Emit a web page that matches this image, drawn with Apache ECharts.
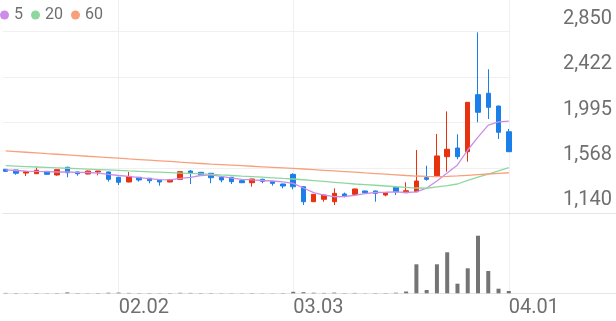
<!DOCTYPE html>
<html><head><meta charset="utf-8">
<script src="https://cdn.jsdelivr.net/npm/echarts@6/dist/echarts.min.js"></script>
<style>html,body{margin:0;padding:0;background:#fff}#c{width:616px;height:321px}</style>
</head><body><div id="c"></div>
<script>
const dates = ["01.16","01.19","01.20","01.21","01.22","01.23","01.26","01.27","01.28","01.29","01.30",
  "02.02","02.03","02.04","02.05","02.06","02.09","02.10","02.11","02.12","02.13","02.19","02.20","02.23","02.24","02.25","02.26","02.27",
  "03.03","03.04","03.05","03.06","03.09","03.10","03.11","03.12","03.13","03.16","03.17","03.18","03.19","03.20","03.23","03.24","03.25","03.26","03.27","03.30","03.31",
  "04.01"];
const opens  = [1554,1548,1519,1513,1535,1501,1573,1529,1510,1529,1529,1479,1435,1479,1470,1454,1435,1460,1538,1526,1517,1479,1479,1447,1428,1460,1441,1416,1507,1390,1249,1272,1249,1322,1319,1350,1350,1312,1385,1334,1343,1475,1494,1673,1755,1720,2257,2270,2150,1908];
const closes = [1535,1517,1532,1545,1507,1551,1522,1513,1538,1538,1460,1432,1485,1454,1447,1435,1456,1532,1517,1501,1475,1454,1438,1428,1463,1441,1422,1397,1390,1249,1319,1312,1328,1303,1369,1334,1328,1334,1343,1353,1444,1460,1680,1743,1673,2185,2091,2138,1903,1720];
const lows   = [1530,1503,1491,1510,1504,1494,1479,1494,1507,1498,1438,1406,1432,1438,1423,1400,1432,1457,1416,1498,1423,1432,1416,1425,1391,1423,1400,1375,1366,1218,1246,1249,1218,1290,1315,1331,1249,1300,1312,1331,1340,1447,1491,1532,1649,1626,1997,2028,1840,1717];
const highs  = [1556,1550,1534,1573,1538,1554,1579,1531,1542,1540,1532,1482,1529,1482,1472,1456,1460,1535,1548,1529,1519,1482,1482,1450,1466,1466,1444,1419,1517,1393,1322,1315,1375,1335,1372,1353,1353,1340,1388,1432,1736,1588,1887,2100,1884,2188,2844,2496,2153,1934];
const volumes = [40000,30000,20000,30000,20000,30000,90000,30000,20000,30000,60000,70000,40000,30000,30000,20000,30000,50000,40000,30000,30000,20000,20000,20000,30000,20000,20000,30000,150000,110000,60000,40000,70000,30000,40000,20000,30000,30000,60000,180000,2900000,330000,2900000,4100000,960000,2500000,5760000,2230000,460000,230000];
const ma5  = [1548,1543,1538,1534,1532,1529,1529,1526,1524,1519,1507,1496,1487,1475,1466,1458,1454,1468,1479,1496,1501,1487,1472,1460,1454,1449,1444,1435,1422,1378,1334,1312,1296,1298,1308,1325,1336,1338,1341,1336,1341,1378,1444,1519,1595,1736,1858,1971,2000,2008];
const ma20 = [1588,1584,1580,1576,1572,1568,1564,1560,1556,1552,1548,1544,1539,1535,1531,1527,1523,1519,1515,1511,1507,1501,1496,1490,1485,1480,1474,1468,1463,1456,1448,1440,1432,1424,1416,1410,1404,1397,1390,1384,1378,1376,1388,1400,1416,1450,1480,1510,1540,1569];
const ma60 = [1727,1721,1715,1709,1702,1696,1690,1684,1677,1671,1665,1659,1652,1646,1640,1634,1628,1621,1615,1609,1603,1598,1593,1588,1583,1578,1573,1568,1563,1557,1551,1545,1539,1533,1527,1520,1514,1508,1502,1496,1491,1487,1485,1487,1492,1498,1504,1510,1516,1522];
const yTickLabels = ["1,140","1,568","1,995","2,422","2,850"];
const xTickLabels = ["02.02","03.03","04.01"];
const yMin = 1140, yMax = 2850;

const FONT = 'Roboto';
const TXT = '#6f6f6f';
const yInterval = (yMax - yMin) / (yTickLabels.length - 1);
const gL = 5.7, gR = 107.2, pTop = 31.7, pH = 181.6, vTop = 235.7, vBottom = 27.7;
const hidden = {show:false};
const chart = echarts.init(document.getElementById('c'), null, {renderer:'canvas'});
chart.setOption({
  animation:false,
  backgroundColor:'#fff',
  legend:{
    data:['5','20','60'], icon:'circle', itemWidth:9, itemHeight:9, itemGap:8, padding:0,
    left:0, top:7, textStyle:{fontFamily:FONT, fontSize:16, color:TXT}
  },
  grid:[
    {left:gL, right:gR, top:pTop, height:pH},
    {left:gL, right:gR, top:vTop, bottom:vBottom},
    {left:3, right:106, top:pTop, height:pH},
    {left:3, right:0, top:pTop, height:pH},
    {left:3, right:0, top:vTop, bottom:vBottom},
    {left:gL, right:gR, top:0, bottom:vBottom}
  ],
  xAxis:[
    {gridIndex:0, type:'category', data:dates, boundaryGap:false, show:false},
    {gridIndex:1, type:'category', data:dates, boundaryGap:false, show:false},
    {gridIndex:2, type:'value', min:0, max:1, show:false},
    {gridIndex:3, type:'value', min:0, max:1, position:'bottom', axisLine:{show:true, onZero:false, lineStyle:{color:'#e4e4e4', width:1}}, axisTick:hidden, axisLabel:hidden, splitLine:hidden},
    {gridIndex:4, type:'value', min:0, max:1, position:'bottom', axisLine:{show:true, onZero:false, lineStyle:{color:'#e4e4e4', width:1}}, axisTick:hidden, axisLabel:hidden, splitLine:hidden},
    {gridIndex:5, type:'category', data:dates, boundaryGap:false, position:'bottom',
      axisLine:hidden, axisTick:hidden,
      splitLine:{show:true, interval:(i,v)=>xTickLabels.includes(v), lineStyle:{color:'#efefef', width:1}},
      axisLabel:{show:true, interval:(i,v)=>xTickLabels.includes(v), align:'left', margin:5, fontFamily:FONT, fontSize:20, color:TXT}
    }
  ],
  yAxis:[
    {gridIndex:0, type:'value', position:'right', min:yMin, max:yMax, interval:yInterval,
      axisLine:hidden, axisTick:hidden, splitLine:hidden,
      axisLabel:{show:true, inside:false, margin:103.2, align:'right', verticalAlign:'bottom', padding:[0,0,3,0],
        fontFamily:FONT, fontSize:20, color:TXT,
        formatter:(v)=>yTickLabels[Math.round((v - yMin)/yInterval)]}},
    {gridIndex:1, type:'value', min:0, max:'dataMax', show:false},
    {gridIndex:2, type:'value', min:yMin, max:yMax, interval:yInterval, axisLine:hidden, axisTick:hidden, axisLabel:hidden,
      splitLine:{show:true, lineStyle:{color:'#f0f0f0', width:1}}},
    {gridIndex:3, type:'value', min:0, max:1, show:false},
    {gridIndex:4, type:'value', min:0, max:1, show:false},
    {gridIndex:5, type:'value', min:0, max:1, show:false}
  ],
  series:[
    {type:'candlestick', xAxisIndex:0, yAxisIndex:0, barWidth:5,
      data:dates.map((d,i)=>[opens[i], closes[i], lows[i], highs[i]]),
      itemStyle:{color:'#e8310e', color0:'#1b7fe9', borderColor:'#e8310e', borderColor0:'#1b7fe9', borderWidth:1}},
    {name:'5', type:'line', xAxisIndex:0, yAxisIndex:0, data:ma5, showSymbol:false, symbol:'none', color:'#cc8ce9', lineStyle:{width:1.3, color:'#cc8ce9'}},
    {name:'20', type:'line', xAxisIndex:0, yAxisIndex:0, data:ma20, showSymbol:false, symbol:'none', color:'#8ed8a0', lineStyle:{width:1.3, color:'#8ed8a0'}},
    {name:'60', type:'line', xAxisIndex:0, yAxisIndex:0, data:ma60, showSymbol:false, symbol:'none', color:'#f8a07c', lineStyle:{width:1.3, color:'#f8a07c'}},
    {type:'bar', xAxisIndex:1, yAxisIndex:1, data:volumes, barWidth:4, itemStyle:{color:'#747474'}}
  ]
});
</script></body></html>
